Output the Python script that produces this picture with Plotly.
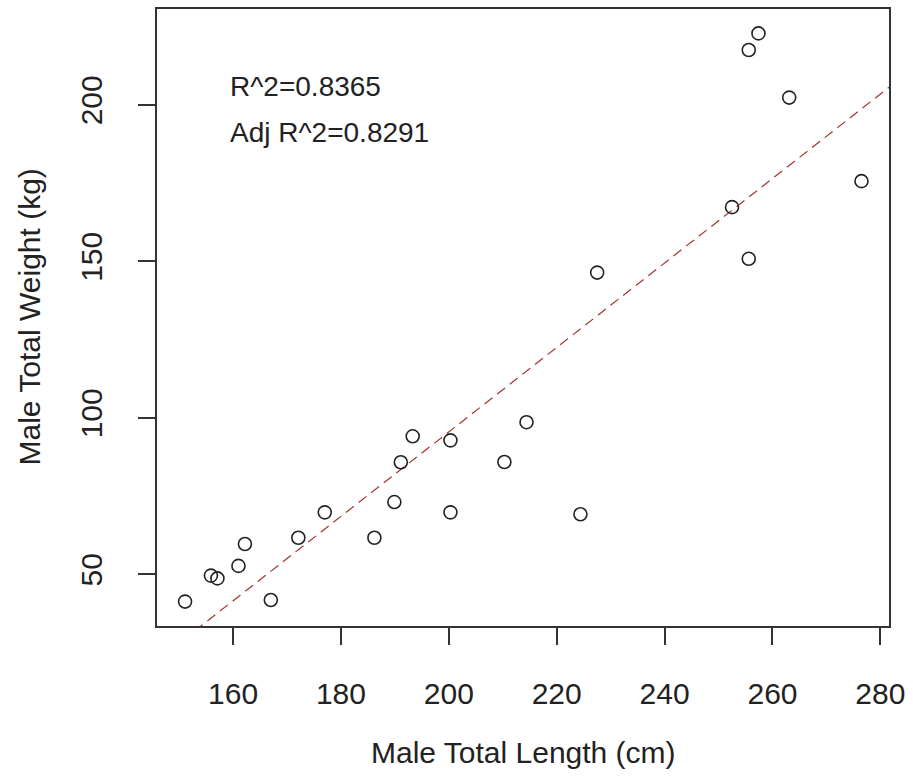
import plotly.graph_objects as go

# Data
length_cm = [151.1, 155.9, 157.1, 161.0, 162.2, 167.0, 172.1, 177.0, 186.2, 189.9,
             191.1, 193.3, 200.3, 200.3, 210.3, 214.4, 224.4, 227.5, 252.5, 255.6,
             255.6, 257.4, 263.1, 276.5]
weight_kg = [41.3, 49.6, 48.7, 52.7, 59.7, 41.8, 61.7, 69.8, 61.7, 73.1,
             85.8, 94.1, 92.8, 69.8, 85.9, 98.6, 69.2, 146.4, 167.3, 150.8,
             217.5, 222.8, 202.3, 175.6]

# fitted regression line
fit_intercept = -174.3
fit_slope = 1.349

x_ticks = [160, 180, 200, 220, 240, 260, 280]
y_ticks = [50, 100, 150, 200]
x_range = [145.9, 281.6]
y_range = [33.5, 230.6]

r2_text = "R^2=0.8365"
adj_r2_text = "Adj R^2=0.8291"
x_title = "Male Total Length (cm)"
y_title = "Male Total Weight (kg)"

FONT = "Liberation Sans, Arial, sans-serif"
TXT = "#222222"

fig = go.Figure()

line_x = [x_range[0], x_range[1]]
line_y = [fit_intercept + fit_slope * v for v in line_x]
fig.add_trace(go.Scatter(
    x=line_x, y=line_y, mode="lines",
    line=dict(color="#a83030", width=1.2, dash="10px,6px"),
    hoverinfo="skip", showlegend=False,
))

fig.add_trace(go.Scatter(
    x=length_cm, y=weight_kg, mode="markers",
    marker=dict(symbol="circle-open", size=13, color="#222222",
                line=dict(width=1.6, color="#222222")),
    showlegend=False, cliponaxis=False,
))

fig.update_layout(
    width=913, height=783,
    margin=dict(l=157, r=24, t=7, b=157),
    paper_bgcolor="white", plot_bgcolor="white",
    font=dict(family=FONT, color=TXT, size=30),
    xaxis=dict(
        range=x_range, tickmode="array", tickvals=x_ticks,
        ticktext=[str(v) for v in x_ticks],
        showgrid=False, zeroline=False,
        showline=True, mirror=True, linecolor="#333333", linewidth=1.6,
        ticks="outside", ticklen=17, tickwidth=1.6, tickcolor="#333333",
        tickfont=dict(family=FONT, size=30, color=TXT),
        ticklabelstandoff=23,
    ),
    yaxis=dict(
        range=y_range, tickmode="array", tickvals=y_ticks,
        ticktext=[str(v) for v in y_ticks],
        showgrid=False, zeroline=False,
        showline=True, mirror=True, linecolor="#333333", linewidth=1.6,
        ticks="outside", ticklen=17, tickwidth=1.6, tickcolor="#333333",
        tickfont=dict(family=FONT, size=30, color=TXT),
        tickangle=-90,
        ticklabelstandoff=24,
    ),
    annotations=[
        dict(text=x_title, xref="paper", yref="paper", x=0.5, y=0,
             xanchor="center", yanchor="middle", yshift=-126, showarrow=False,
             font=dict(family=FONT, size=30, color=TXT)),
        dict(text=y_title, xref="paper", yref="paper", x=0, y=0.5,
             xanchor="center", yanchor="middle", xshift=-128, textangle=-90,
             showarrow=False, font=dict(family=FONT, size=30, color=TXT)),
        dict(text=r2_text, xref="x", yref="y", x=159.0, y=205.8,
             xanchor="left", yanchor="middle", showarrow=False,
             font=dict(family=FONT, size=28, color=TXT)),
        dict(text=adj_r2_text, xref="x", yref="y", x=159.0, y=191.2,
             xanchor="left", yanchor="middle", showarrow=False,
             font=dict(family=FONT, size=28, color=TXT)),
    ],
)

fig.write_html("out.html")
